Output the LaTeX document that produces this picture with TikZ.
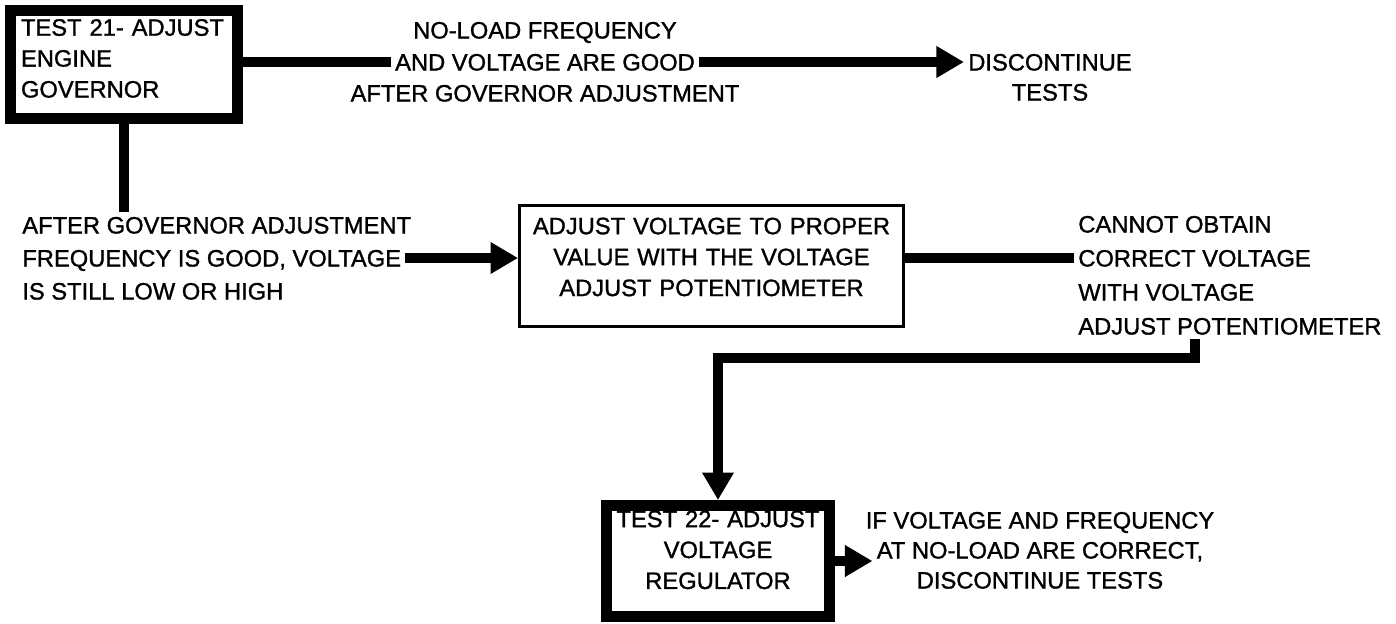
\documentclass[tikz,border=0pt]{standalone}
\usepackage{fontspec}
\setmainfont{Liberation Sans}[BoldFont={Liberation Sans},BoldFeatures={FakeBold=1.2}]
\usepackage{tikz}
\usetikzlibrary{arrows.meta,calc,positioning}
\newcommand{\lbfont}{\fontsize{13.5pt}{17.6pt}\selectfont\bfseries}

\begin{document}
\begin{tikzpicture}[x=0.02cm,y=-0.02cm,
    every node/.style={font=\lbfont},
    testbox/.style={draw,line width=0.22cm,inner ysep=0pt},
    adjbox/.style={draw,line width=0.06cm,inner ysep=0pt},
    lbl/.style={inner sep=0.08cm,text height=9.7pt,text depth=0pt},
    conn/.style={line width=0.2cm},
    arr/.style={conn,-{Triangle[length=0.55cm,width=0.6cm]}}]
  \useasboundingbox (0,0) rectangle (1396,623);
  \node[testbox,minimum width=4.54cm,minimum height=2.16cm,inner xsep=0.21cm,text width=4.12cm,align=left,text depth=42.2pt] (gov) at (124,64.5) {TEST 21- ADJUST\\ENGINE\\GOVERNOR};
  \node[adjbox,minimum width=7.68cm,minimum height=2.42cm,inner xsep=0.1cm,text width=7.48cm,align=center,text depth=45.6pt] (vadj) at (711.5,266) {ADJUST VOLTAGE TO PROPER\\VALUE WITH THE VOLTAGE\\ADJUST POTENTIOMETER};
  \node[testbox,minimum width=4.46cm,minimum height=2.22cm,inner xsep=0.1cm,text width=4.26cm,align=center,text depth=48pt] (vreg) at (718,561) {TEST 22- ADJUST\\VOLTAGE\\REGULATOR};
  \foreach \n/\y/\txt in {1/30/{NO-LOAD FREQUENCY},2/62/{AND VOLTAGE ARE GOOD},3/93/{AFTER GOVERNOR ADJUSTMENT}}
    \node[lbl] (good\n) at (545,\y) {\txt};
  \foreach \n/\y/\txt in {1/62/{DISCONTINUE},2/92/{TESTS}}
    \node[lbl] (stop\n) at (1050,\y) {\txt};
  \foreach \n/\y/\txt in {1/225/{AFTER GOVERNOR ADJUSTMENT},2/258/{FREQUENCY IS GOOD, VOLTAGE},3/291/{IS STILL LOW OR HIGH}}
    \node[lbl,anchor=west] (freq\n) at (18,\y) {\txt};
  \foreach \n/\y/\txt in {1/224/{CANNOT OBTAIN},2/258/{CORRECT VOLTAGE},3/292/{WITH VOLTAGE},4/326/{ADJUST POTENTIOMETER}}
    \node[lbl,anchor=west] (pot\n) at (1074,\y) {\txt};
  \foreach \n/\y/\txt in {1/520/{IF VOLTAGE AND FREQUENCY},2/550/{AT NO-LOAD ARE CORRECT,},3/580/{DISCONTINUE TESTS}}
    \node[lbl] (ok\n) at (1040,\y) {\txt};
  \draw[conn] (gov.east |- good2.west) -- (good2.west);
  \draw[arr] (good2.east) -- (stop1.west);
  \draw[conn] (gov.south) -- (gov.south |- freq1.north);
  \draw[arr] (freq2.east) -- (freq2.east -| vadj.west);
  \draw[conn] (vadj.east |- pot2.west) -- (pot2.west);
  \coordinate (bend) at (1195,358);
  \draw[arr] (bend |- pot4.south) -- (bend) -| (vreg.north);
  \draw[arr] (vreg.east) -- (vreg.east -| ok2.west);
\end{tikzpicture}
\end{document}
